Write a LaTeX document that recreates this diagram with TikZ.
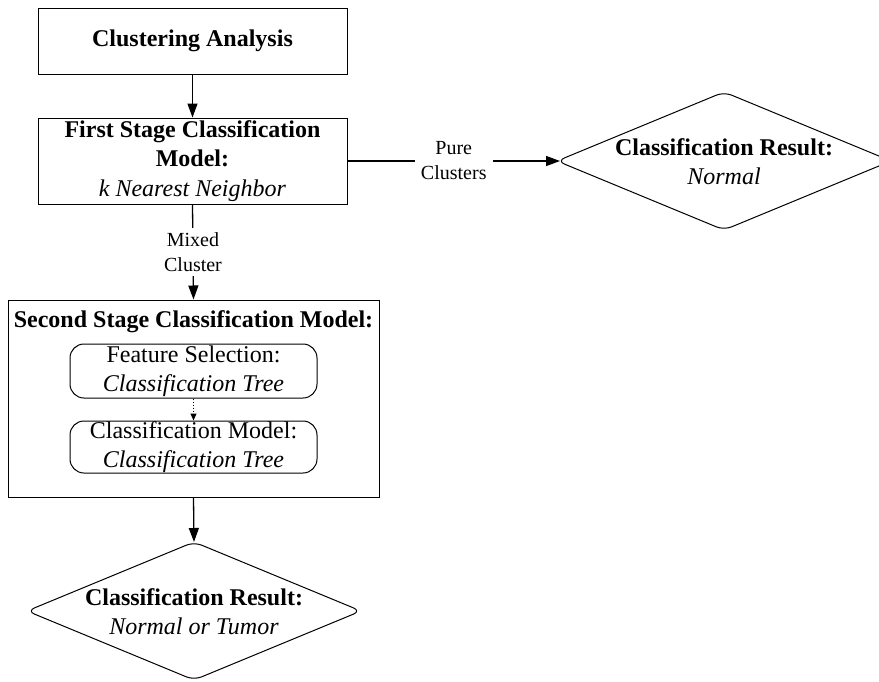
\documentclass[tikz,border=0pt]{standalone}
\usepackage{fontspec}
\IfFontExistsTF{LiberationSerif-Regular.ttf}{%
  \setmainfont{LiberationSerif}[Extension=.ttf,
    UprightFont=*-Regular, BoldFont=*-Bold,
    ItalicFont=*-Italic, BoldItalicFont=*-BoldItalic]}{%
  \setmainfont{Liberation Serif}}
\usetikzlibrary{arrows.meta}
\begin{document}
\begin{tikzpicture}[x=1pt,y=-1pt,
  box/.style={draw, line width=1pt, align=center, inner sep=0pt,
    font=\fontsize{24}{29.5}\selectfont},
  rbox/.style={box, rounded corners=14pt},
  txt/.style={align=center, inner sep=0pt, font=\fontsize{24}{29}\selectfont},
  elabel/.style={fill=white, align=center, inner sep=4pt,
    font=\fontsize{20}{25}\selectfont},
  arr/.style={line width=1.3pt, -{Triangle[length=14pt,width=10pt]}},
  diam/.style={draw, line width=1pt, rounded corners=8pt}
]
\useasboundingbox (0,0) rectangle (879,681);

% boxes
\node[box, minimum width=309pt, minimum height=66pt] (ca) at (192.5,41)
  {\textbf{Clustering Analysis}};
\node[box, minimum width=309pt, minimum height=86pt] (fs) at (192.5,161)
  {\textbf{First Stage Classification}\\\textbf{Model:}\\\textit{k Nearest Neighbor}};
\node[box, minimum width=371pt, minimum height=197pt] (ss) at (193.5,398.5) {};
\node[txt] (sst) at (193.5,322) {\textbf{Second Stage Classification Model:}};
\node[rbox, minimum width=247pt, minimum height=54pt] (fsel) at (193.5,371)
  {Feature Selection:\\\textit{Classification Tree}};
\node[rbox, minimum width=247pt, minimum height=52pt] (cm) at (193.5,447)
  {Classification Model:\\\textit{Classification Tree}};

% right diamond
\coordinate (rd) at (724,161);
\draw[diam] (rd) ++(-167,0) -- ++(167,-69) -- ++(167,69) -- ++(-167,69) -- cycle;
\node[txt] (rdt) at (724,161.5) {\textbf{Classification Result:}\\\textit{Normal}};
\coordinate (rdW) at (560,161);

% bottom diamond
\coordinate (bd) at (194,611);
\draw[diam] (bd) ++(-167,0) -- ++(167,-69) -- ++(167,69) -- ++(-167,69) -- cycle;
\node[txt] (bdt) at (194,612) {\textbf{Classification Result:}\\\textit{Normal or Tumor}};
\coordinate (bdN) at (194,542);

% connectors
\draw[arr] (ca.south) -- (fs.north);
\draw[arr] (fs.south) -- node[elabel] (mix) {Mixed\\Cluster} (ss.north);
\draw[arr] (fs.east) -- node[elabel, inner sep=6pt] (pure) {Pure\\Clusters} (rdW);
\draw[dotted, line width=1pt, -{Triangle[length=7pt,width=6pt]}] (fsel.south) -- (cm.north);
\draw[arr] (ss.south) -- (bdN);
\end{tikzpicture}
\end{document}
